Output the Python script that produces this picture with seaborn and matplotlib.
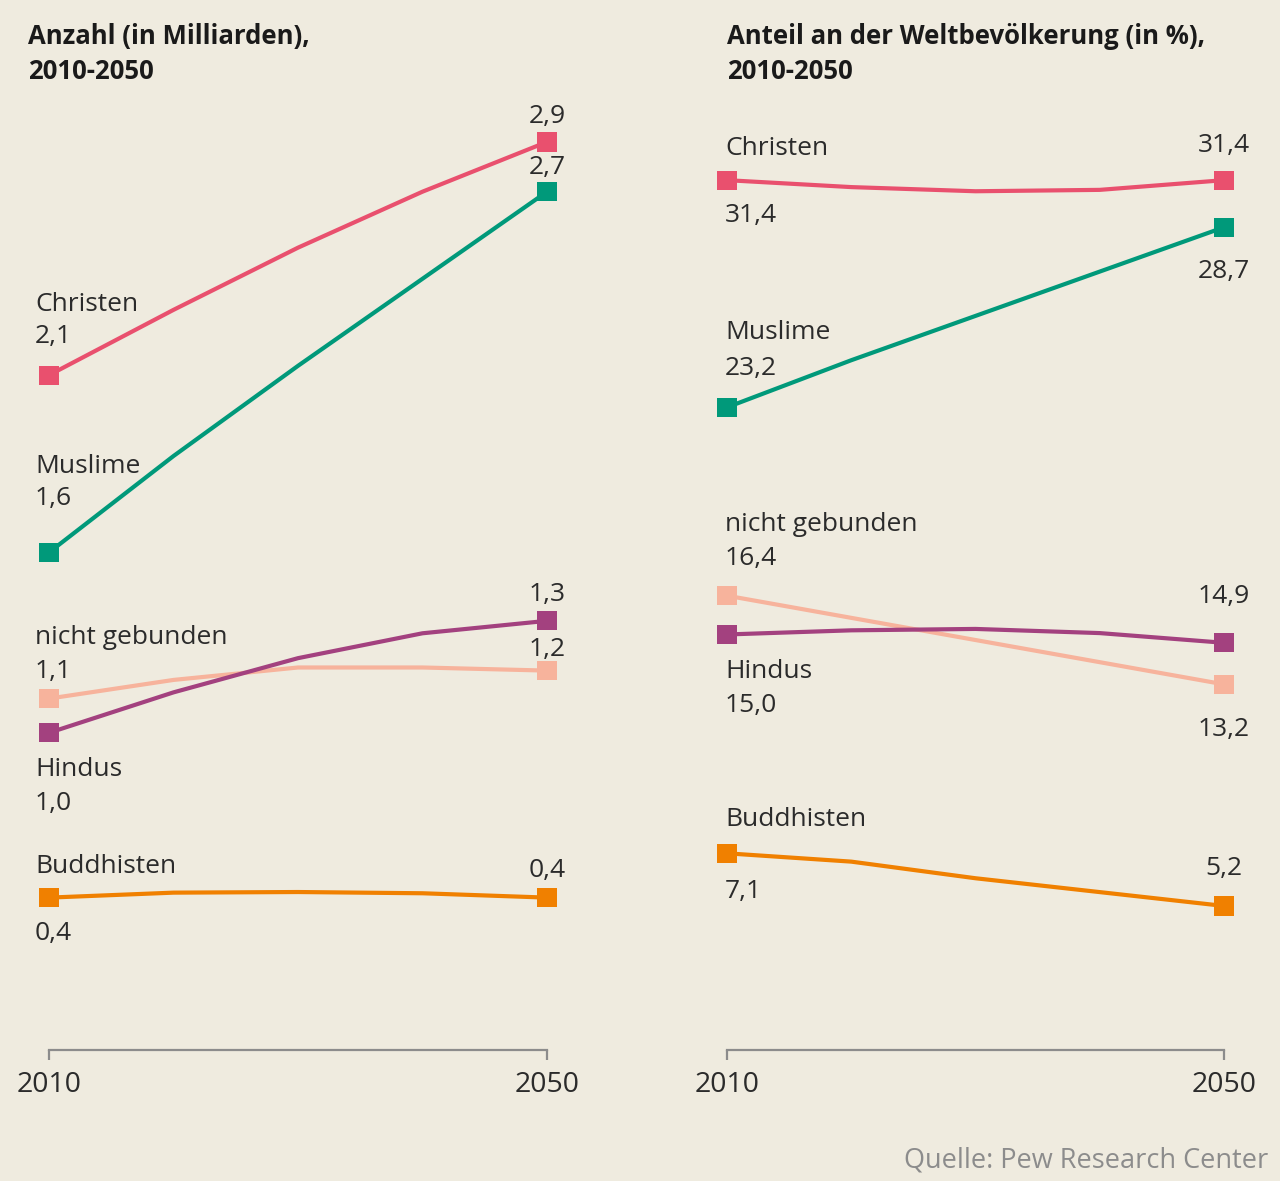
import matplotlib
matplotlib.use("Agg")
import matplotlib.pyplot as plt
import numpy as np
import pandas as pd
import seaborn as sns

years = [2010, 2020, 2030, 2040, 2050]
religions = ["Christen", "Muslime", "nicht gebunden", "Hindus", "Buddhisten"]

# Anzahl in Milliarden
anzahl_christen = [2.17, 2.38, 2.58, 2.76, 2.92]
anzahl_muslime = [1.60, 1.91, 2.20, 2.48, 2.76]
anzahl_nicht_gebunden = [1.13, 1.19, 1.23, 1.23, 1.22]
anzahl_hindus = [1.02, 1.15, 1.26, 1.34, 1.38]
anzahl_buddhisten = [0.49, 0.506, 0.508, 0.504, 0.49]

# Anteil an der Weltbevoelkerung in %
anteil_christen = [31.4, 31.15, 31.0, 31.05, 31.4]
anteil_muslime = [23.2, 24.9, 26.5, 28.1, 29.7]
anteil_nicht_gebunden = [16.4, 15.6, 14.8, 14.0, 13.2]
anteil_hindus = [15.0, 15.15, 15.2, 15.05, 14.7]
anteil_buddhisten = [7.1, 6.8, 6.2, 5.7, 5.2]

# printed labels
labels_anzahl_2010 = ["2,1", "1,6", "1,1", "1,0", "0,4"]
labels_anzahl_2050 = ["2,9", "2,7", "1,2", "1,3", "0,4"]
labels_anteil_2010 = ["31,4", "23,2", "16,4", "15,0", "7,1"]
labels_anteil_2050 = ["31,4", "28,7", "13,2", "14,9", "5,2"]

titles = ["Anzahl (in Milliarden),\n2010-2050",
          "Anteil an der Weltbevölkerung (in %),\n2010-2050"]
source = "Quelle: Pew Research Center"

colors = ["#e9506e", "#00997a", "#f7b39c", "#a3417f", "#f08000"]
palette = dict(zip(religions, colors))
bg = "#efebdf"
txt = "#2b2b2b"
grey = "#8c8c8c"


def make_df(series):
    rows = []
    for rel, vals in zip(religions, series):
        for y, v in zip(years, vals):
            rows.append([rel, y, v])
    return pd.DataFrame(rows, columns=["religion", "jahr", "wert"])


df_anzahl = make_df([anzahl_christen, anzahl_muslime, anzahl_nicht_gebunden,
                     anzahl_hindus, anzahl_buddhisten])
df_anteil = make_df([anteil_christen, anteil_muslime, anteil_nicht_gebunden,
                     anteil_hindus, anteil_buddhisten])

sns.set_theme(style="white")
plt.rcParams["font.family"] = ["Open Sans", "DejaVu Sans"]

fig = plt.figure(figsize=(12.8, 11.81), dpi=100)
fig.patch.set_facecolor(bg)

# axes placed so the bottom spine is at 0
ax1 = fig.add_axes([49 / 1280, 131 / 1181, 498 / 1280, 948.5 / 1181])
ax2 = fig.add_axes([727 / 1280, 131 / 1181, 497 / 1280, 948.5 / 1181])

# label offsets in pixels (name dy, value dy) for 2010 and value dy for 2050
off_left = {"dx": -14,
            "name": [71, 86, 61, -37, 31],
            "v10": [39, 54, 27, -71, -36],
            "v50": [25, 24, 21, 26, 27]}
off_right = {"dx": -2,
             "name": [32, 75, 71, -37, 34],
             "v10": [-35, 39, 37, -71, -38],
             "v50": [35, -44, -45, 46, 37]}

panels = [(ax1, df_anzahl, 3.05, labels_anzahl_2010, labels_anzahl_2050, off_left),
          (ax2, df_anteil, 34.24, labels_anteil_2010, labels_anteil_2050, off_right)]

for ax, df, ytop, lab10, lab50, off in panels:
    ax.set_facecolor(bg)
    sns.lineplot(data=df, x="jahr", y="wert", hue="religion", hue_order=religions,
                 palette=palette, linewidth=3.0, legend=False, ax=ax,
                 clip_on=False, zorder=2, solid_joinstyle="round")
    ends = df[df["jahr"].isin([2010, 2050])]
    sns.scatterplot(data=ends, x="jahr", y="wert", hue="religion", hue_order=religions,
                    palette=palette, marker="s", s=190, linewidth=0, legend=False,
                    ax=ax, clip_on=False, zorder=3)
    ax.set_xlim(2010, 2050)
    ax.set_ylim(0, ytop)
    ax.set_xticks([2010, 2050])
    ax.set_xticklabels(["2010", "2050"])
    ax.set_yticks([])
    ax.set_xlabel("")
    ax.set_ylabel("")
    for s in ["top", "left", "right"]:
        ax.spines[s].set_visible(False)
    ax.spines["bottom"].set_color(grey)
    ax.spines["bottom"].set_linewidth(1.6)
    ax.tick_params(axis="x", length=7, width=1.6, color=grey, pad=8,
                   labelsize=20.5, labelcolor=txt, bottom=True, direction="out")

    for i, rel in enumerate(religions):
        sub = df[df["religion"] == rel]
        v10 = sub[sub["jahr"] == 2010]["wert"].iloc[0]
        v50 = sub[sub["jahr"] == 2050]["wert"].iloc[0]
        ax.annotate(rel, (2010, v10), xytext=(off["dx"], off["name"][i]),
                    textcoords="offset pixels", ha="left", va="center",
                    fontsize=19, color=txt)
        ax.annotate(lab10[i], (2010, v10), xytext=(off["dx"], off["v10"][i]),
                    textcoords="offset pixels", ha="left", va="center",
                    fontsize=19, color=txt)
        ax.annotate(lab50[i], (2050, v50), xytext=(0, off["v50"][i]),
                    textcoords="offset pixels", ha="center", va="center",
                    fontsize=19, color=txt)

fig.text(28 / 1280, 1 - 23 / 1181, titles[0], ha="left", va="top",
         fontsize=18.5, fontweight="bold", color="#1a1a1a", linespacing=1.4)
fig.text(727 / 1280, 1 - 23 / 1181, titles[1], ha="left", va="top",
         fontsize=18.5, fontweight="bold", color="#1a1a1a", linespacing=1.4)
fig.text(1268 / 1280, 1 - 1160 / 1181, source, ha="right", va="center",
         fontsize=19.5, color=grey)

fig.savefig("out.png", dpi=100, facecolor=bg)
